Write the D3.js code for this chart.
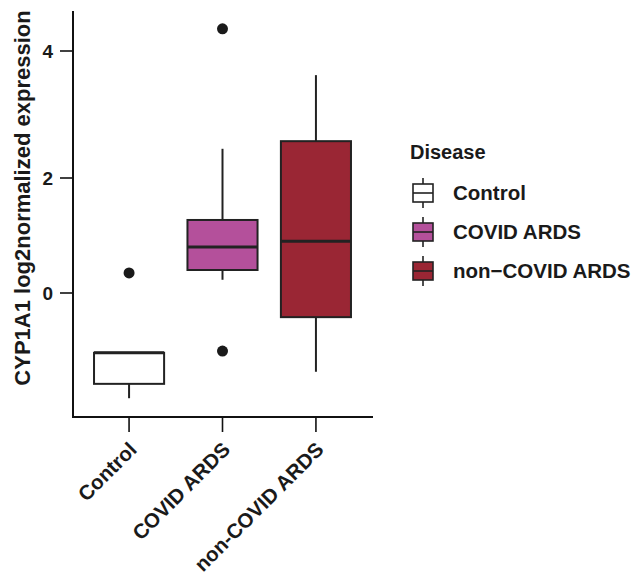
<!DOCTYPE html>
<html>
<head>
<meta charset="utf-8">
<script src="https://cdn.jsdelivr.net/npm/d3@7"></script>
<style>
  body { margin: 0; background: #fff; }
  text { font-family: "Liberation Sans", Arial, sans-serif; font-weight: bold; fill: #1a1a1a; }
</style>
</head>
<body>
<div id="chart"></div>
<script>
// chart values
var categories = ["Control", "COVID ARDS", "non-COVID ARDS"];
var legendLabels = ["Control", "COVID ARDS", "non\u2212COVID ARDS"];
var q1 = [-1.58, 0.40, -0.42];
var median = [-1.04, 0.80, 0.90];
var q3 = [-1.04, 1.27, 2.58];
var whiskerLow = [-1.83, 0.23, -1.37];
var whiskerHigh = [-1.04, 2.46, 3.62];
var outliers = [[0.35], [4.35, -1.01], []];
var fills = ["#ffffff", "#b4509b", "#9a2634"];
var yTicks = [0, 2, 4];

var width = 635,
    height = 583;

var svg = d3.select("#chart").append("svg")
    .attr("width", width)
    .attr("height", height);

//scales
var x = d3.scalePoint()
    .domain(categories)
    .range([73, 372])
    .padding(0.6);

var y = d3.scaleLinear()
    .domain([0, 2, 4])
    .range([293, 178, 51]);

var boxW = x.step() * 0.75;
var ink = "#222";

//axes
var yAxis = svg.append("g")
    .attr("transform", "translate(73,0)");
yAxis.append("line")
    .attr("x1", 0).attr("x2", 0)
    .attr("y1", 11).attr("y2", 417)
    .attr("stroke", "#111").attr("stroke-width", 2);
yAxis.selectAll(".tick")
    .data(yTicks)
    .enter().append("line")
    .attr("x1", -13).attr("x2", 0)
    .attr("y1", function(d){ return y(d); })
    .attr("y2", function(d){ return y(d); })
    .attr("stroke", "#111").attr("stroke-width", 1.6);
yAxis.selectAll(".lab")
    .data(yTicks)
    .enter().append("text")
    .attr("x", -20)
    .attr("y", function(d){ return y(d); })
    .attr("dy", "0.36em")
    .attr("text-anchor", "end")
    .style("font-size", "19px")
    .text(function(d){ return d; });

var xAxis = svg.append("g")
    .attr("transform", "translate(0,417)");
xAxis.append("line")
    .attr("x1", 72).attr("x2", 373)
    .attr("y1", 0).attr("y2", 0)
    .attr("stroke", "#111").attr("stroke-width", 2);
xAxis.selectAll(".tick")
    .data(categories)
    .enter().append("line")
    .attr("x1", function(d){ return x(d); })
    .attr("x2", function(d){ return x(d); })
    .attr("y1", 0).attr("y2", 15)
    .attr("stroke", "#111").attr("stroke-width", 1.6);
xAxis.selectAll(".lab")
    .data(categories)
    .enter().append("text")
    .attr("transform", function(d){ return "translate(" + (x(d) - 2) + ",23) rotate(-45)"; })
    .attr("dy", "0.75em")
    .attr("text-anchor", "end")
    .style("font-size", "20.5px")
    .text(function(d){ return d; });

//y title
svg.append("text")
    .attr("transform", "translate(30,198) rotate(-90)")
    .attr("text-anchor", "middle")
    .style("font-size", "22px")
    .text("CYP1A1 log2normalized expression");

//boxes
var boxes = svg.append("g").selectAll("g")
    .data(categories)
    .enter().append("g");

boxes.append("line")
    .attr("x1", function(d){ return x(d); })
    .attr("x2", function(d){ return x(d); })
    .attr("y1", function(d,i){ return y(whiskerHigh[i]); })
    .attr("y2", function(d,i){ return y(q3[i]); })
    .attr("stroke", ink).attr("stroke-width", 2);
boxes.append("line")
    .attr("x1", function(d){ return x(d); })
    .attr("x2", function(d){ return x(d); })
    .attr("y1", function(d,i){ return y(q1[i]); })
    .attr("y2", function(d,i){ return y(whiskerLow[i]); })
    .attr("stroke", ink).attr("stroke-width", 2);
boxes.append("rect")
    .attr("x", function(d){ return x(d) - boxW/2; })
    .attr("width", boxW)
    .attr("y", function(d,i){ return y(q3[i]); })
    .attr("height", function(d,i){ return y(q1[i]) - y(q3[i]); })
    .attr("fill", function(d,i){ return fills[i]; })
    .attr("stroke", ink).attr("stroke-width", 2);
boxes.append("line")
    .attr("x1", function(d){ return x(d) - boxW/2; })
    .attr("x2", function(d){ return x(d) + boxW/2; })
    .attr("y1", function(d,i){ return y(median[i]); })
    .attr("y2", function(d,i){ return y(median[i]); })
    .attr("stroke", ink).attr("stroke-width", 3);
boxes.selectAll("circle")
    .data(function(d,i){ return outliers[i].map(function(v){ return {c: d, v: v}; }); })
    .enter().append("circle")
    .attr("cx", function(o){ return x(o.c); })
    .attr("cy", function(o){ return y(o.v); })
    .attr("r", 5.5)
    .attr("fill", "#1a1a1a");

//legend
var legend = svg.append("g");
legend.append("text")
    .attr("x", 410).attr("y", 159)
    .style("font-size", "20px")
    .text("Disease");

var keys = legend.selectAll(".key")
    .data(legendLabels)
    .enter().append("g")
    .attr("transform", function(d,i){ return "translate(0," + (193 + i*39) + ")"; });
keys.append("line")
    .attr("x1", 423).attr("x2", 423)
    .attr("y1", -15).attr("y2", 15)
    .attr("stroke", ink).attr("stroke-width", 1.6);
keys.append("rect")
    .attr("x", 413).attr("y", -9)
    .attr("width", 20).attr("height", 18)
    .attr("fill", function(d,i){ return fills[i]; })
    .attr("stroke", ink).attr("stroke-width", 1.6);
keys.append("line")
    .attr("x1", 413).attr("x2", 433)
    .attr("y1", 0).attr("y2", 0)
    .attr("stroke", ink).attr("stroke-width", 1.6);
keys.append("text")
    .attr("x", 453).attr("y", 7)
    .style("font-size", "20.5px")
    .text(function(d){ return d; });
</script>
</body>
</html>
